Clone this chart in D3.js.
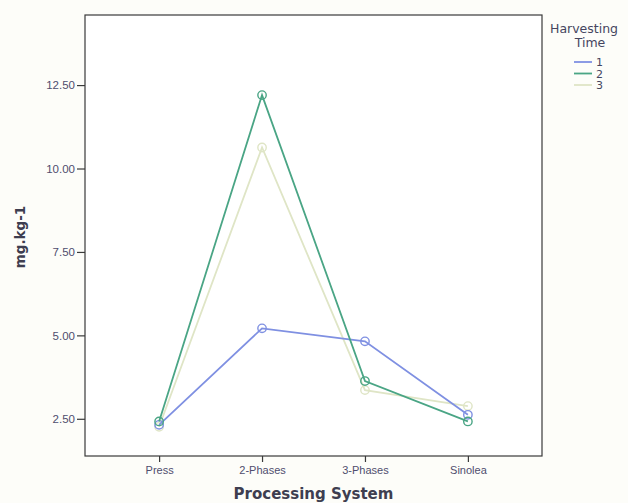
<!DOCTYPE html>
<html>
<head>
<meta charset="utf-8">
<script src="https://cdn.jsdelivr.net/npm/d3@7"></script>
<style>
  body { margin: 0; background: #fdfdf9; }
  svg { font-family: "DejaVu Sans", Verdana, sans-serif; }
</style>
</head>
<body>
<div id="chart"></div>
<script>

// processing systems on the x axis
var systems = ["Press", "2-Phases", "3-Phases", "Sinolea"]

// harvesting times (legend)
var harvest_times = ["1", "2", "3"]

// mg.kg-1 per harvesting time, in order of systems
var values_time1 = [2.32, 5.21, 4.82, 2.62]
var values_time2 = [2.42, 12.2, 3.63, 2.42]
var values_time3 = [2.26, 10.63, 3.36, 2.88]

var y_ticks = [2.5, 5, 7.5, 10, 12.5]

var colors = ["#7f90e2", "#4aa585", "#dfe5c6"]


// draw the line chart
function draw_chart(){

	var svg = d3.select("#chart").append("svg")
	.attr("width", 628)
	.attr("height", 503)

	var left = 85, right = 542, top = 15, bottom = 456

	var x = d3.scalePoint()
	.domain(systems)
	.range([left, right])
	.padding(0.72)

	var y = d3.scaleLinear()
	.domain([1.385, 14.6])
	.range([bottom, top])

	// plot frame
	svg.append("rect")
	.attr("x", left)
	.attr("y", top)
	.attr("width", right - left)
	.attr("height", bottom - top)
	.attr("fill", "#ffffff")
	.attr("stroke", "#3a3a3a")
	.attr("stroke-width", 1.2)

	// y axis
	var y_axis = svg.append("g")
	.attr("transform", "translate(" + left + ",0)")
	.call(d3.axisLeft(y).tickValues(y_ticks).tickFormat(d3.format(".2f")).tickSize(8).tickPadding(2))

	y_axis.select(".domain").remove()
	y_axis.selectAll("line").attr("stroke", "#3a3a3a").attr("stroke-width", 1.2)
	y_axis.selectAll("text")
	.attr("font-size", 11.5)
	.attr("fill", "#4f4d6e")

	// x axis
	var x_axis = svg.append("g")
	.attr("transform", "translate(0," + bottom + ")")
	.call(d3.axisBottom(x).tickSize(6).tickPadding(4))

	x_axis.select(".domain").remove()
	x_axis.selectAll("line").attr("stroke", "#3a3a3a").attr("stroke-width", 1.2)
	x_axis.selectAll("text")
	.attr("font-size", 11)
	.attr("fill", "#4f4d6e")

	// axis titles
	svg.append("text")
	.attr("x", (left + right) / 2)
	.attr("y", 499)
	.attr("text-anchor", "middle")
	.attr("font-size", 15)
	.attr("font-weight", "bold")
	.attr("fill", "#3e3e50")
	.text("Processing System")

	svg.append("text")
	.attr("transform", "translate(25,237) rotate(-90)")
	.attr("text-anchor", "middle")
	.attr("font-size", 13.5)
	.attr("font-weight", "bold")
	.attr("fill", "#3e3e50")
	.text("mg.kg-1")

	// series
	var series = [values_time1, values_time2, values_time3]

	var line = d3.line()
	.x(function(d, i){ return x(systems[i]) })
	.y(function(d){ return y(d) })

	// draw in order 3, 1, 2 so green lies on top
	var order = [2, 0, 1]
	order.forEach(function(s){
		svg.append("path")
		.datum(series[s])
		.attr("d", line)
		.attr("fill", "none")
		.attr("stroke", colors[s])
		.attr("stroke-width", 1.8)

		svg.selectAll(".pt" + s)
		.data(series[s])
		.enter().append("circle")
		.attr("class", "pt" + s)
		.attr("cx", function(d, i){ return x(systems[i]) })
		.attr("cy", function(d){ return y(d) })
		.attr("r", 4.2)
		.attr("fill", "none")
		.attr("stroke", colors[s])
		.attr("stroke-width", 1.4)
	})

	// legend
	var legend = svg.append("g")

	legend.append("text")
	.attr("x", 550)
	.attr("y", 33)
	.attr("font-size", 12.5)
	.attr("fill", "#454560")
	.text("Harvesting")

	legend.append("text")
	.attr("x", 590)
	.attr("y", 47)
	.attr("text-anchor", "middle")
	.attr("font-size", 12.5)
	.attr("fill", "#454560")
	.text("Time")

	var entries = legend.selectAll(".entry")
	.data(harvest_times)
	.enter().append("g")
	.attr("class", "entry")
	.attr("transform", function(d, i){ return "translate(0," + (62 + i * 11.5) + ")" })

	entries.append("line")
	.attr("x1", 574)
	.attr("x2", 592)
	.attr("stroke", function(d, i){ return colors[i] })
	.attr("stroke-width", 1.8)

	entries.append("text")
	.attr("x", 596)
	.attr("y", 4)
	.attr("font-size", 11)
	.attr("fill", "#454560")
	.text(function(d){ return d })
}

draw_chart()

</script>
</body>
</html>
